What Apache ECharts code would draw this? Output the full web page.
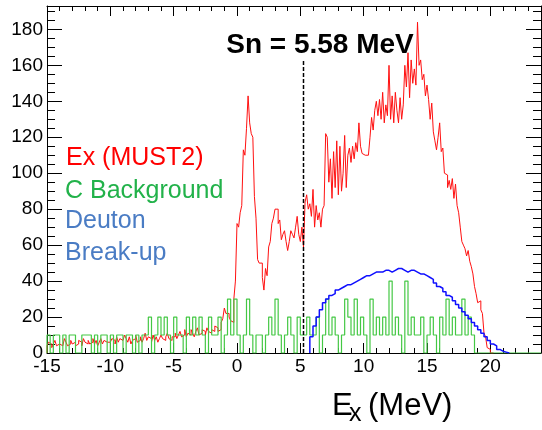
<!DOCTYPE html>
<html>
<head>
<meta charset="utf-8">
<script src="https://cdn.jsdelivr.net/npm/echarts@6/dist/echarts.min.js"></script>
<style>
  html, body { margin: 0; padding: 0; background: #fff; }
  #main { width: 542px; height: 430px; }
</style>
</head>
<body>
<div id="main"></div>
<script>
// Ex (MUST2) - red, 0.125 MeV bins from -15
var redStart = -15;
var redBin = 0.125;
var redCounts = [
    // -15 .. -10
    4, 6, 5, 3, 5, 7, 4, 5, 6, 4, 5, 8, 6, 4, 5, 7, 5, 6, 4, 5,
    7, 6, 4, 8, 6, 5, 7, 5, 6, 8, 5, 7, 4, 6, 8, 5, 7, 6, 5, 6,
    // -10 .. -5
    6, 8, 7, 5, 9, 6, 8, 7, 6, 10, 8, 6, 9, 5, 7, 8, 10, 6, 7, 9,
    6, 8, 11, 7, 9, 8, 6, 10, 7, 9, 6, 8, 10, 8, 7, 9, 11, 8, 7, 9,
    // -5 .. -2
    9, 11, 8, 10, 12, 9, 10, 13, 9, 11, 10, 13, 11, 9, 12, 14, 10, 11, 13, 12, 10, 14, 12, 11,
    // -2 .. 0
    13, 12, 15, 14, 12, 13, 17, 19, 25, 22, 22, 20, 18, 17, 30, 40,
    // 0 .. 2
    72, 70, 78, 82, 113, 110, 125, 143, 128, 122, 120, 87, 75, 52, 50, 50,
    // 2 .. 4
    42, 35, 47, 43, 59, 62, 72, 75, 80, 80, 72, 74, 63, 66, 68, 62,
    // 4 .. 6
    57, 62, 68, 66, 64, 70, 76, 66, 62, 70, 59, 84, 88, 80, 83, 76,
    // 6 .. 8
    91, 70, 82, 74, 78, 70, 80, 82, 122, 120, 95, 108, 86, 112, 92, 118,
    // 8 .. 10
    88, 115, 90, 100, 121, 92, 110, 114, 106, 115, 108, 117, 112, 128, 115, 111,
    // 10 .. 12
    110, 110, 110, 110, 120, 131, 124, 135, 140, 132, 141, 130, 145, 128, 138, 132,
    // 12 .. 14
    160, 130, 143, 128, 145, 135, 128, 142, 130, 138, 160, 148, 167, 142, 163, 150,
    // 14 .. 16
    158, 149, 184, 160, 163, 152, 155, 143, 149, 141, 130, 139, 123, 118, 113, 120,
    // 16 .. 18
    128, 112, 114, 100, 99, 92, 96, 91, 97, 86, 94, 82, 78, 70, 62, 60,
    // 18 .. 20.25
    58, 54, 57, 51, 48, 44, 37, 33, 28, 29, 24, 22, 11, 9, 3, 2, 0, 0
];

// C Background - green, 0.25 MeV bins from -15
var greenStart = -15;
var greenBin = 0.25;
var greenCounts = [
    10, 0, 10, 10, 0, 10, 0, 10, 10, 0, 0, 10,
    10, 10, 0, 10, 0, 10, 10, 0, 10, 0, 10, 10,
    0, 10, 10, 0, 10, 0, 10, 10, 20, 0, 10, 20,
    10, 20, 10, 0, 20, 10, 10, 0, 20, 10, 20, 10,
    20, 10, 0, 20, 10, 10, 20, 0, 10, 30, 10, 30,
    10, 0, 10, 30, 10, 0, 10, 10, 0, 10, 20, 10,
    30, 10, 0, 10, 20, 10, 0, 20, 10, 10, 20, 10,
    10, 20, 0, 10, 30, 10, 20, 10, 0, 10, 30, 20,
    10, 30, 10, 20, 10, 0, 30, 10, 20, 10, 20, 10,
    40, 10, 20, 10, 0, 40, 10, 20, 10, 10, 20, 0,
    10, 20, 10, 0, 20, 10, 30, 10, 20, 10, 10, 30,
    10, 20, 10, 0,
    0, 0, 0, 0, 0, 0, 0, 0, 0, 0, 0, 0, 0, 0, 0, 0, 0, 0, 0, 0
];

// Deuton break-up - blue, 0.25 MeV bins from 5.75
var blueStart = 5.75;
var blueBin = 0.25;
var blueCounts = [
    9, 15, 20, 24, 28, 30, 32, 33, 35, 36, 37, 38, 38, 39, 40, 41, 42,
    43, 43, 44, 45, 45, 45, 46, 46, 45, 46, 47, 47, 46, 45, 46, 46,
    45, 44, 44, 43, 42, 41, 39, 37, 36, 34, 32, 31, 29, 27, 25, 23,
    21, 19, 17, 15, 13, 11, 9, 7, 5, 4, 2, 1, 0.5, 0
];

var snEnergy = 5.25;   // where the dashed Sn line sits on the plot
var snTop = 163;

var xTicks = { min: -15, max: 24, interval: 5 };
var yTicks = { min: 0, max: 193, interval: 20 };

var fontFam = '"Liberation Sans", Arial, sans-serif';

function histPoints(start, width, counts) {
    var pts = [[start, 0]];
    for (var i = 0; i < counts.length; i++) {
        pts.push([start + i * width, counts[i]]);
    }
    pts.push([start + counts.length * width, 0]);
    return pts;
}

function xAxisOf(pos, showLabel) {
    return {
        type: 'value',
        position: pos,
        min: xTicks.min,
        max: xTicks.max,
        interval: xTicks.interval,
        axisLine: { show: true, onZero: false, lineStyle: { color: '#000', width: 1 } },
        axisTick: { show: true, inside: true, length: 10, lineStyle: { color: '#000' } },
        minorTick: { show: true, splitNumber: 5, length: 5, lineStyle: { color: '#000' } },
        splitLine: { show: false },
        axisLabel: {
            show: showLabel, color: '#000', fontSize: 19, fontFamily: fontFam,
            margin: 4, showMaxLabel: false
        }
    };
}

function yAxisOf(pos, showLabel) {
    return {
        type: 'value',
        position: pos,
        min: yTicks.min,
        max: yTicks.max,
        interval: yTicks.interval,
        axisLine: { show: true, onZero: false, lineStyle: { color: '#000', width: 1 } },
        axisTick: { show: true, inside: true, length: 15, lineStyle: { color: '#000' } },
        minorTick: { show: true, splitNumber: 4, length: 8, lineStyle: { color: '#000' } },
        splitLine: { show: false },
        axisLabel: {
            show: showLabel, color: '#000', fontSize: 19, fontFamily: fontFam,
            margin: 4, showMaxLabel: false
        }
    };
}

var option = {
    animation: false,
    backgroundColor: '#fff',
    grid: { left: 47, right: 1, top: 6, bottom: 77, containLabel: false },
    xAxis: [xAxisOf('bottom', true), xAxisOf('top', false)],
    yAxis: [yAxisOf('left', true), yAxisOf('right', false)],
    series: [
        {
            name: 'Ex (MUST2)',
            type: 'line',
            step: 'end',
            symbol: 'none',
            lineStyle: { color: '#ff1010', width: 1 },
            data: histPoints(redStart, redBin, redCounts)
        },
        {
            name: 'C Background',
            type: 'line',
            step: 'end',
            symbol: 'none',
            lineStyle: { color: '#44c844', width: 1.2 },
            data: histPoints(greenStart, greenBin, greenCounts)
        },
        {
            name: 'Deuton Break-up',
            type: 'line',
            step: 'end',
            symbol: 'none',
            lineStyle: { color: '#1010ff', width: 1.5 },
            data: histPoints(blueStart, blueBin, blueCounts)
        },
        {
            name: 'Sn',
            type: 'line',
            symbol: 'none',
            lineStyle: { color: '#000', width: 1.5, type: [4, 2] },
            data: [[snEnergy, 0], [snEnergy, snTop]]
        }
    ],
    graphic: [
        { type: 'text', x: 320, y: 45, style: { text: 'Sn = 5.58 MeV', fill: '#000', font: 'bold 28px ' + fontFam, align: 'center', verticalAlign: 'middle' } },
        { type: 'text', x: 66, y: 158, style: { text: 'Ex (MUST2)', fill: '#ff0000', font: '25px ' + fontFam, verticalAlign: 'middle' } },
        { type: 'text', x: 65, y: 191, style: { text: 'C Background', fill: '#22b24a', font: '25px ' + fontFam, verticalAlign: 'middle' } },
        { type: 'text', x: 65, y: 221, style: { text: 'Deuton', fill: '#4a7cc4', font: '25px ' + fontFam, verticalAlign: 'middle' } },
        { type: 'text', x: 65, y: 253, style: { text: 'Break-up', fill: '#4a7cc4', font: '25px ' + fontFam, verticalAlign: 'middle' } },
        // axis title E_x (MeV)
        { type: 'text', x: 332, y: 406, style: { text: 'E', fill: '#000', font: '31px ' + fontFam, verticalAlign: 'middle' } },
        { type: 'text', x: 349, y: 414, style: { text: 'x', fill: '#000', font: '25px ' + fontFam, verticalAlign: 'middle' } },
        { type: 'text', x: 368, y: 406, style: { text: '(MeV)', fill: '#000', font: '31px ' + fontFam, verticalAlign: 'middle' } }
    ]
};

var myChart = echarts.init(document.getElementById('main'), null, { renderer: 'canvas' });
myChart.setOption(option);
</script>
</body>
</html>
